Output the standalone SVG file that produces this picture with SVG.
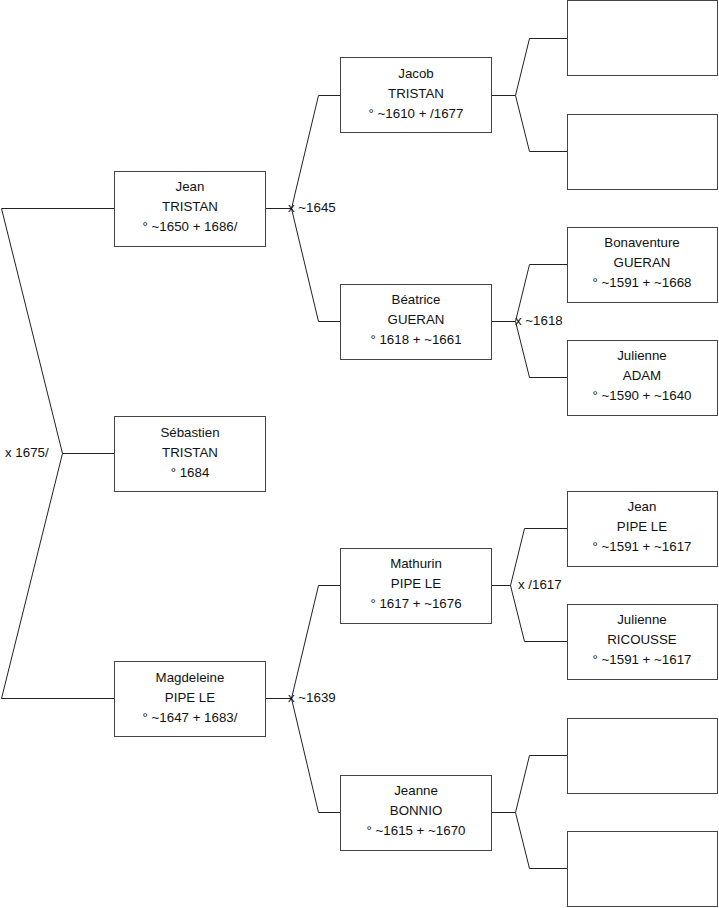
<svg xmlns="http://www.w3.org/2000/svg" width="719" height="908" viewBox="0 0 719 908">
<style>
.box{fill:#fff;stroke:#444;stroke-width:1}
.t{font-family:"Liberation Sans",Arial,sans-serif;font-size:13.3px;fill:#111;text-anchor:middle}
.l{font-family:"Liberation Sans",Arial,sans-serif;font-size:13.3px;fill:#111}
.c{fill:none;stroke:#222;stroke-width:1}
</style>
<rect width="719" height="908" fill="#fff"/>
<g id="connectors">
<polyline class="c" points="114,208.5 1.5,208.5 62.5,453.5 1.5,698.5 114,698.5"/>
<line class="c" x1="62.5" y1="453.5" x2="114" y2="453.5"/>
<polyline class="c" points="340,95.5 318.5,95.5 291.5,208.5 318.5,321.5 340,321.5"/>
<line class="c" x1="265" y1="208.5" x2="291.5" y2="208.5"/>
<polyline class="c" points="340,585.5 318.5,585.5 291.5,698.5 318.5,812.5 340,812.5"/>
<line class="c" x1="265" y1="698.5" x2="291.5" y2="698.5"/>
<polyline class="c" points="567,38.5 529.5,38.5 515.5,95.5 529.5,151.5 567,151.5"/>
<line class="c" x1="491" y1="95.5" x2="515.5" y2="95.5"/>
<polyline class="c" points="567,264.5 529.5,264.5 515.5,321.5 529.5,377.5 567,377.5"/>
<line class="c" x1="491" y1="321.5" x2="515.5" y2="321.5"/>
<polyline class="c" points="567,528.5 524.5,528.5 510.5,585.5 524.5,641.5 567,641.5"/>
<line class="c" x1="491" y1="585.5" x2="510.5" y2="585.5"/>
<polyline class="c" points="567,755.5 529.5,755.5 515.5,812.5 529.5,868.5 567,868.5"/>
<line class="c" x1="491" y1="812.5" x2="515.5" y2="812.5"/>
<text class="l" x="5" y="457">x 1675/</text>
<text class="l" x="288" y="212">x ~1645</text>
<text class="l" x="288" y="702">x ~1639</text>
<text class="l" x="515" y="325">x ~1618</text>
<text class="l" x="518" y="589">x /1617</text>
</g>
<g id="jean-tristan">
<rect class="box" x="114.5" y="171.5" width="151" height="75"/>
<text class="t" x="190" y="191">Jean</text>
<text class="t" x="190" y="211">TRISTAN</text>
<text class="t" x="190" y="231">° ~1650 + 1686/</text>
</g>
<g id="sebastien-tristan">
<rect class="box" x="114.5" y="416.5" width="151" height="75"/>
<text class="t" x="190" y="437">Sébastien</text>
<text class="t" x="190" y="457">TRISTAN</text>
<text class="t" x="190" y="477">° 1684</text>
</g>
<g id="magdeleine-pipe-le">
<rect class="box" x="114.5" y="661.5" width="151" height="75"/>
<text class="t" x="190" y="682">Magdeleine</text>
<text class="t" x="190" y="702">PIPE LE</text>
<text class="t" x="190" y="722">° ~1647 + 1683/</text>
</g>
<g id="jacob-tristan">
<rect class="box" x="340.5" y="57.5" width="151" height="75"/>
<text class="t" x="416" y="78">Jacob</text>
<text class="t" x="416" y="98">TRISTAN</text>
<text class="t" x="416" y="118">° ~1610 + /1677</text>
</g>
<g id="beatrice-gueran">
<rect class="box" x="340.5" y="284.5" width="151" height="75"/>
<text class="t" x="416" y="304">Béatrice</text>
<text class="t" x="416" y="324">GUERAN</text>
<text class="t" x="416" y="344">° 1618 + ~1661</text>
</g>
<g id="mathurin-pipe-le">
<rect class="box" x="340.5" y="548.5" width="151" height="75"/>
<text class="t" x="416" y="568">Mathurin</text>
<text class="t" x="416" y="588">PIPE LE</text>
<text class="t" x="416" y="608">° 1617 + ~1676</text>
</g>
<g id="jeanne-bonnio">
<rect class="box" x="340.5" y="775.5" width="151" height="75"/>
<text class="t" x="416" y="795">Jeanne</text>
<text class="t" x="416" y="815">BONNIO</text>
<text class="t" x="416" y="835">° ~1615 + ~1670</text>
</g>
<g id="unknown-1"><rect class="box" x="567.5" y="0.5" width="150" height="75"/></g>
<g id="unknown-2"><rect class="box" x="567.5" y="114.5" width="150" height="75"/></g>
<g id="bonaventure-gueran">
<rect class="box" x="567.5" y="227.5" width="150" height="75"/>
<text class="t" x="642" y="247">Bonaventure</text>
<text class="t" x="642" y="267">GUERAN</text>
<text class="t" x="642" y="287">° ~1591 + ~1668</text>
</g>
<g id="julienne-adam">
<rect class="box" x="567.5" y="340.5" width="150" height="75"/>
<text class="t" x="642" y="360">Julienne</text>
<text class="t" x="642" y="380">ADAM</text>
<text class="t" x="642" y="400">° ~1590 + ~1640</text>
</g>
<g id="jean-pipe-le">
<rect class="box" x="567.5" y="491.5" width="150" height="75"/>
<text class="t" x="642" y="511">Jean</text>
<text class="t" x="642" y="531">PIPE LE</text>
<text class="t" x="642" y="551">° ~1591 + ~1617</text>
</g>
<g id="julienne-ricousse">
<rect class="box" x="567.5" y="604.5" width="150" height="75"/>
<text class="t" x="642" y="624">Julienne</text>
<text class="t" x="642" y="644">RICOUSSE</text>
<text class="t" x="642" y="664">° ~1591 + ~1617</text>
</g>
<g id="unknown-3"><rect class="box" x="567.5" y="718.5" width="150" height="75"/></g>
<g id="unknown-4"><rect class="box" x="567.5" y="831.5" width="150" height="75"/></g>
</svg>
